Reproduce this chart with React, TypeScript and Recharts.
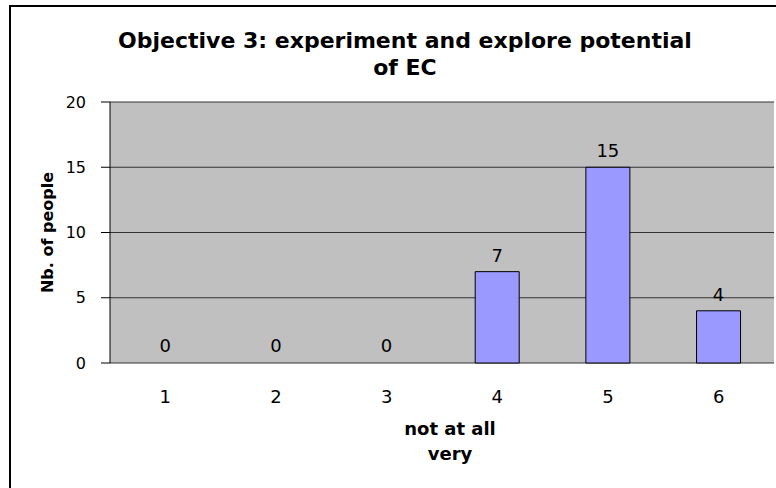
import { BarChart, Bar, XAxis, YAxis, CartesianGrid, LabelList, Rectangle } from "recharts";

const categories = ["1", "2", "3", "4", "5", "6"];
const counts = [0, 0, 0, 7, 15, 4];
const yTicks = [0, 5, 10, 15, 20];
const edgeTicks = [0, 1, 2, 3, 4, 5, 6];
const titleLines = ["Objective 3: experiment and explore potential", "of EC"];
const xTitleLines = ["not at all", "very"];
const yTitle = "Nb. of people";

const data = categories.map((c, i) => ({ score: c, people: counts[i] }));

const XTitle = (props: any) => {
  const vb = props.viewBox || {};
  const cx = vb.x + vb.width / 2 + 8;
  return (
    <text textAnchor="middle" fontSize={18} fontWeight="bold" fill="#000">
      <tspan x={cx} y={vb.y + 72}>{xTitleLines[0]}</tspan>
      <tspan x={cx} y={vb.y + 97}>{xTitleLines[1]}</tspan>
    </text>
  );
};

const YTitle = (props: any) => {
  const vb = props.viewBox || {};
  const cx = 47;
  const cy = vb.y + vb.height / 2;
  return (
    <text
      x={cx}
      y={cy}
      transform={`rotate(-90, ${cx}, ${cy})`}
      textAnchor="middle"
      dominantBaseline="central"
      fontSize={16}
      fontWeight="bold"
      fill="#000"
    >
      {yTitle}
    </text>
  );
};

// zero bars get a 1px rect so the label is kept, but nothing is drawn
const BarShape = (props: any) => {
  if (!props.payload || props.payload.people === 0) return <g />;
  return <Rectangle {...props} />;
};

export default function App() {
  return (
    <div
      style={{
        position: "absolute",
        left: 0,
        top: 0,
        width: 776,
        height: 488,
        overflow: "hidden",
        background: "#fff",
        fontFamily: "'DejaVu Sans', sans-serif",
      }}
    >
      <div
        style={{
          position: "absolute",
          left: 9,
          top: 5,
          width: 820,
          height: 600,
          border: "2px solid #000",
        }}
      />
      <div
        style={{
          position: "absolute",
          left: 5,
          width: 800,
          top: 27,
          textAlign: "center",
          fontSize: 22,
          lineHeight: "27px",
          fontWeight: "bold",
          whiteSpace: "nowrap",
          color: "#000",
        }}
      >
        {titleLines.map((t) => (
          <div key={t}>{t}</div>
        ))}
      </div>
      <div style={{ position: "absolute", left: 0, top: 0 }}>
        <BarChart
          width={776}
          height={488}
          data={data}
          margin={{ top: 102, right: 2, left: 0, bottom: 0 }}
          barCategoryGap="30%"
        >
          <CartesianGrid vertical={false} fill="#C0C0C0" stroke="#333" strokeOpacity={1} />
          <XAxis
            xAxisId="edges"
            type="number"
            domain={[0, 6]}
            ticks={edgeTicks}
            allowDataOverflow
            height={0}
            tick={false}
            tickSize={6}
            tickLine={{ stroke: "#000" }}
            axisLine={{ stroke: "#000" }}
          />
          <XAxis
            dataKey="score"
            height={125}
            axisLine={false}
            tickLine={false}
            tickSize={0}
            tickMargin={27}
            tick={{ fill: "#000", fontSize: 18 }}
            label={<XTitle />}
          />
          <XAxis
            xAxisId="top"
            orientation="top"
            height={0}
            tick={false}
            tickLine={false}
            axisLine={{ stroke: "#808080" }}
          />
          <YAxis
            domain={[0, 20]}
            ticks={yTicks}
            width={110}
            tickSize={9}
            tickMargin={15}
            tick={{ fill: "#000", fontSize: 16 }}
            tickLine={{ stroke: "#000" }}
            axisLine={{ stroke: "#000" }}
            label={<YTitle />}
          />
          <YAxis
            yAxisId="right"
            orientation="right"
            width={0}
            tick={false}
            tickLine={false}
            axisLine={{ stroke: "#808080" }}
          />
          <Bar
            dataKey="people"
            fill="#9999FF"
            stroke="#000"
            strokeWidth={1}
            minPointSize={1}
            shape={BarShape}
            isAnimationActive={false}
          >
            <LabelList dataKey="people" position="top" offset={10} fill="#000" fontSize={18} />
          </Bar>
        </BarChart>
      </div>
    </div>
  );
}
